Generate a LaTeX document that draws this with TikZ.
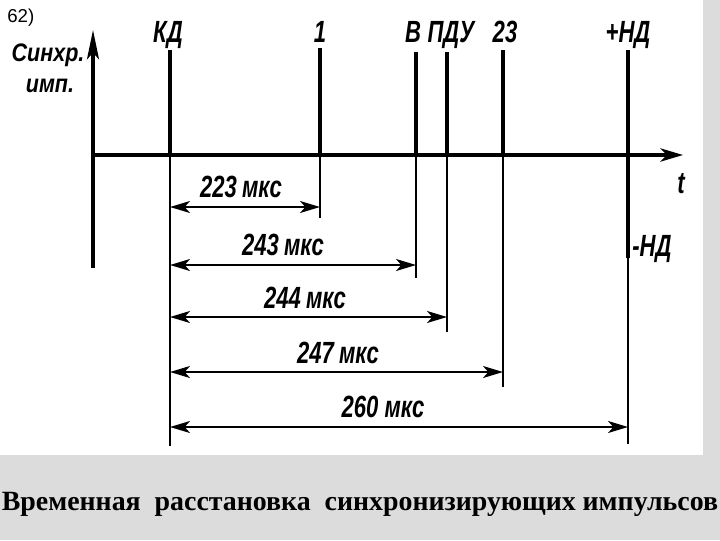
\documentclass[tikz,border=0pt]{standalone}
\usepackage{fontspec}
\setmainfont{Liberation Serif}
\newfontfamily\labfont[FakeStretch=0.72]{Liberation Sans}
\newfontfamily\ylabfont[FakeStretch=0.85]{Liberation Sans}
\newfontfamily\axfont{Liberation Sans}
\usetikzlibrary{arrows.meta}
\definecolor{bg}{HTML}{DCDCDC}
\begin{document}
\begin{tikzpicture}[x=0.75pt,y=-0.75pt,
  pulse/.style={line width=3.2pt},
  thinline/.style={line width=1.4pt},
  axisline/.style={line width=2.4pt},
  dimline/.style={line width=1.5pt,{Stealth[length=15pt,width=9pt,inset=4pt]}-{Stealth[length=15pt,width=9pt,inset=4pt]}},
  lab/.style={font=\labfont\bfseries\itshape\fontsize{23}{25}\selectfont, inner sep=0pt, anchor=base},
  ax/.style={font=\ylabfont\bfseries\itshape\fontsize{19}{21}\selectfont, inner sep=0pt, anchor=base}]
\useasboundingbox (0,0) rectangle (720,540);
\fill[bg] (0,0) rectangle (720,540);
\fill[white] (0,0) rectangle (703,455);
% page number
\node[font=\axfont\fontsize{14}{16}\selectfont, inner sep=0pt, anchor=base west] (num) at (7,22) {62)};
% axes
\coordinate (o) at (93,155);
\coordinate (ybot) at (93,268);
\coordinate (ytop) at (93,30);
\coordinate (xend) at (683,155);
\draw[axisline,-{Stealth[length=22pt,width=9pt,inset=5pt]}] (ybot) -- (ytop);
\draw[axisline,-{Stealth[length=17pt,width=10pt,inset=5pt]}] (o) -- (xend);
\node[ax] (ylab1) at (48,61) {Синхр.};
\node[ax] (ylab2) at (50,92) {имп.};
\node[lab] (tlab) at (681,193) {t};
% pulse coordinates
\coordinate (kdT) at (170,50);  \coordinate (kdA) at (170,155); \coordinate (kdB) at (170,446);
\coordinate (p1T) at (320,48);  \coordinate (p1A) at (320,155); \coordinate (p1B) at (320,218);
\coordinate (vT) at (416,52);   \coordinate (vA) at (416,155);  \coordinate (vB) at (416,278);
\coordinate (pdT) at (447,52);  \coordinate (pdA) at (447,155); \coordinate (pdB) at (447,332);
\coordinate (p23T) at (503,50); \coordinate (p23A) at (503,155); \coordinate (p23B) at (503,387);
\coordinate (ndT) at (628,50);  \coordinate (ndM) at (628,258); \coordinate (ndB) at (628,444);
% pulses
\draw[pulse] (kdT) -- (kdA);
\draw[pulse] (p1T) -- (p1A);
\draw[pulse] (vT) -- (vA);
\draw[pulse] (pdT) -- (pdA);
\draw[pulse] (p23T) -- (p23A);
\draw[pulse] (ndT) -- (ndM);
% extension lines
\draw[thinline] (kdA) -- (kdB);
\draw[thinline] (p1A) -- (p1B);
\draw[thinline] (vA) -- (vB);
\draw[thinline] (pdA) -- (pdB);
\draw[thinline] (p23A) -- (p23B);
\draw[thinline] (ndM) -- (ndB);
% pulse labels
\node[lab] (lkd) at (168,42) {КД};
\node[lab] (l1) at (320,42) {1};
\node[lab] (lv) at (413,42) {В};
\node[lab] (lpd) at (451,42) {ПДУ};
\node[lab] (l23) at (505,42) {23};
\node[lab] (lnd) at (628,42) {+НД};
\node[lab,anchor=base west] (lmnd) at (632,256) {-НД};
% dimension arrows
\coordinate (d1L) at (170,207); \coordinate (d1R) at (320,207);
\coordinate (d2L) at (170,265); \coordinate (d2R) at (416,265);
\coordinate (d3L) at (170,317); \coordinate (d3R) at (447,317);
\coordinate (d4L) at (170,372); \coordinate (d4R) at (503,372);
\coordinate (d5L) at (170,427); \coordinate (d5R) at (628,427);
\draw[dimline] (d1L) -- (d1R);
\draw[dimline] (d2L) -- (d2R);
\draw[dimline] (d3L) -- (d3R);
\draw[dimline] (d4L) -- (d4R);
\draw[dimline] (d5L) -- (d5R);
\node[lab] (t1) at (241,197) {223\,мкс};
\node[lab] (t2) at (283,255) {243\,мкс};
\node[lab] (t3) at (305,308) {244\,мкс};
\node[lab] (t4) at (338,363) {247\,мкс};
\node[lab] (t5) at (383,417) {260 мкс};
% caption
\node[font=\bfseries\fontsize{20.9}{23}\selectfont, inner sep=0pt, anchor=base] (cap) at (360,510) {Временная\ \ расстановка\ \ синхронизирующих импульсов};
\end{tikzpicture}
\end{document}
